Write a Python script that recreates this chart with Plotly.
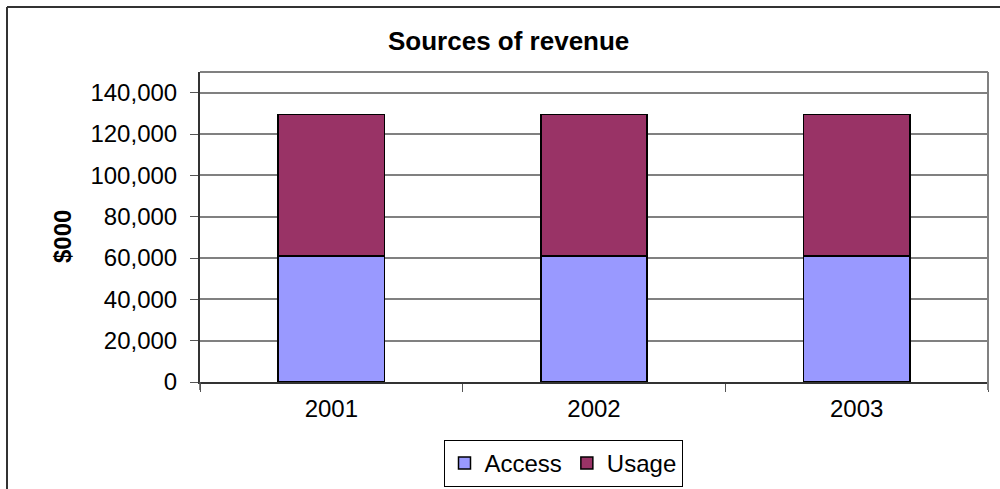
import plotly.graph_objects as go

years = ["2001", "2002", "2003"]
access = [61000, 61000, 61000]
usage = [68500, 68500, 68500]
y_ticks = [0, 20000, 40000, 60000, 80000, 100000, 120000, 140000]

W, H = 1000, 489
L, R, T, B = 200, 12, 72, 107
pw, ph = W - L - R, H - T - B

def px(x):
    return (x - L) / pw

def py(y):
    return (H - B - y) / ph

font = "Liberation Sans, Arial, sans-serif"

fig = go.Figure()
fig.add_trace(go.Bar(x=years, y=access, name="Access", marker=dict(color="#9999FF", line=dict(color="#000000", width=1.5)), width=0.405))
fig.add_trace(go.Bar(x=years, y=usage, name="Usage", marker=dict(color="#993366", line=dict(color="#000000", width=1.5)), width=0.405))

fig.update_layout(
    barmode="stack",
    width=W, height=H,
    margin=dict(l=L, r=R, t=T, b=B, autoexpand=False),
    paper_bgcolor="white", plot_bgcolor="white",
    font=dict(family=font, size=24, color="#000000"),
    showlegend=True,
    legend=dict(orientation="h", x=px(563), xanchor="center", y=py(440), yanchor="top",
                bordercolor="#000000", borderwidth=1, bgcolor="white", traceorder="normal",
                font=dict(size=24), itemwidth=30, tracegroupgap=0),
    xaxis=dict(type="category", showgrid=False, showline=True, linecolor="#333333", linewidth=2,
               ticks="outside", tickson="boundaries", ticklen=8, tickcolor="#555555",
               tickfont=dict(size=24), ticklabelstandoff=4, fixedrange=True),
    yaxis=dict(range=[0, 150000], tickvals=y_ticks, tickformat=",d", showgrid=True,
               gridcolor="#808080", gridwidth=1.5, showline=True, linecolor="#333333", linewidth=2,
               ticks="outside", ticklen=8, tickcolor="#555555", tickfont=dict(size=24),
               ticklabelstandoff=8, zeroline=False, fixedrange=True),
    shapes=[
        dict(type="line", xref="paper", yref="paper", x0=0, x1=1, y0=1, y1=1, line=dict(color="#808080", width=2)),
        dict(type="line", xref="paper", yref="paper", x0=1, x1=1, y0=0, y1=1, line=dict(color="#808080", width=2)),
        dict(type="line", xref="paper", yref="paper", x0=1, x1=1, y0=0, y1=py(390), line=dict(color="#808080", width=2)),
        dict(type="line", xref="paper", yref="paper", x0=0, x1=0, y0=0, y1=py(390), line=dict(color="#555555", width=1.5)),
        dict(type="line", xref="paper", yref="paper", x0=px(7), x1=px(1010), y0=py(7), y1=py(7), line=dict(color="#333333", width=2)),
        dict(type="line", xref="paper", yref="paper", x0=px(7), x1=px(7), y0=py(7), y1=py(500), line=dict(color="#333333", width=2)),
    ],
    annotations=[
        dict(text="<b>Sources of revenue</b>", xref="paper", yref="paper", x=px(508), y=py(41),
             xanchor="center", yanchor="middle", showarrow=False, font=dict(size=26)),
        dict(text="<b>$000</b>", xref="paper", yref="paper", x=px(62), y=py(237), textangle=-90,
             xanchor="center", yanchor="middle", showarrow=False, font=dict(size=24)),
    ],
)

fig.write_html("out.html")
